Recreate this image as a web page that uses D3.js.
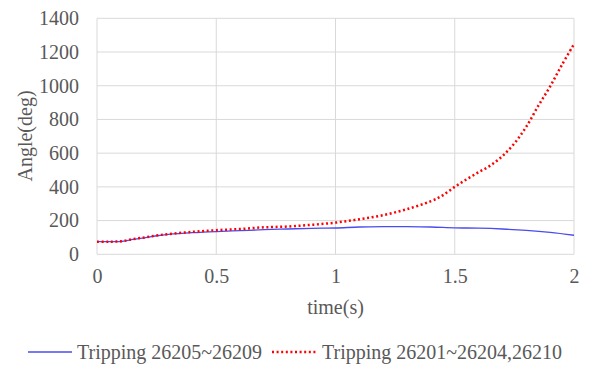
<!DOCTYPE html>
<html><head><meta charset="utf-8">
<script src="https://cdn.jsdelivr.net/npm/d3@7"></script>
<style>html,body{margin:0;padding:0;background:#fff;}svg{display:block;} svg text{font-family:"Liberation Serif","Times New Roman","DejaVu Serif",serif !important;}</style>
</head><body>
<svg id="c" width="589" height="367"></svg>
<script>
const blueT = [0,0.05,0.1,0.15,0.2,0.25,0.3,0.4,0.5,0.6,0.7,0.8,0.9,1.0,1.1,1.2,1.3,1.4,1.5,1.6,1.7,1.8,1.9,2.0];
const blueV = [75,75,76,88,98,110,118,128,135,140,146,150,154,156,162,164,164,162,157,155,150,142,130,113];
const redT = [0,0.05,0.1,0.15,0.2,0.25,0.3,0.4,0.5,0.6,0.7,0.8,0.9,1.0,1.1,1.2,1.3,1.4,1.45,1.5,1.55,1.6,1.65,1.7,1.75,1.8,1.85,1.9,1.95,2.0];
const redV = [75,75,77,90,100,112,120,133,143,150,160,165,175,188,208,232,268,315,350,400,445,487,527,583,658,757,880,996,1125,1247];
const xTicks = [0,0.5,1,1.5,2];
const yTicks = [0,200,400,600,800,1000,1200,1400];
const seriesNames = ["Tripping 26205~26209","Tripping 26201~26204,26210"];

const svg = d3.select("#c");
const L=97,R=574,T=18.3,B=254.3;
const x = d3.scaleLinear().domain([0,2]).range([L,R]);
const y = d3.scaleLinear().domain([0,1400]).range([B,T]);
const txt = "#595959";

svg.append("g").selectAll("line").data(yTicks).join("line")
  .attr("x1",L).attr("x2",R).attr("y1",d=>y(d)).attr("y2",d=>y(d))
  .attr("stroke","#d9d9d9").attr("stroke-width",1);
svg.append("g").selectAll("line").data(xTicks).join("line")
  .attr("y1",T).attr("y2",B).attr("x1",d=>x(d)).attr("x2",d=>x(d))
  .attr("stroke","#d9d9d9").attr("stroke-width",1);

const ya = d3.axisLeft(y).tickValues(yTicks).tickSize(0).tickPadding(18).tickFormat(d3.format("d"));
const yg = svg.append("g").attr("transform",`translate(${L},0)`).call(ya);
yg.select(".domain").remove();
yg.attr("font-size",20);
yg.selectAll("text").attr("fill",txt);

const xa = d3.axisBottom(x).tickValues(xTicks).tickSize(0).tickPadding(15).tickFormat(d=>String(d));
const xg = svg.append("g").attr("transform",`translate(0,${B})`).call(xa);
xg.select(".domain").remove();
xg.attr("font-size",20);
xg.selectAll("text").attr("fill",txt);

svg.append("text").attr("x",(L+R)/2).attr("y",314).attr("text-anchor","middle")
  .attr("font-size",20).attr("fill",txt).text("time(s)");
svg.append("text").attr("transform",`translate(32,136) rotate(-90)`).attr("text-anchor","middle")
  .attr("font-size",20).attr("fill",txt).text("Angle(deg)");

const line = d3.line().x(d=>x(d[0])).y(d=>y(d[1])).curve(d3.curveCatmullRom.alpha(0.5));
const blue = blueT.map((t,i)=>[t,blueV[i]]);
const red = redT.map((t,i)=>[t,redV[i]]);
svg.append("path").attr("d",line(blue)).attr("fill","none").attr("stroke","#4b4bef").attr("stroke-width",1.3);
svg.append("path").attr("d",line(red)).attr("fill","none").attr("stroke","#ff0000").attr("stroke-width",2.5).attr("stroke-dasharray","2,2.6");

const ly = 352;
svg.append("line").attr("x1",28).attr("x2",72).attr("y1",ly).attr("y2",ly).attr("stroke","#4b4bef").attr("stroke-width",1.3);
svg.append("text").attr("x",77).attr("y",359).attr("font-size",20).attr("fill",txt).text(seriesNames[0]);
svg.append("line").attr("x1",272).attr("x2",316).attr("y1",ly).attr("y2",ly).attr("stroke","#ff0000").attr("stroke-width",2.5).attr("stroke-dasharray","2,2.6");
svg.append("text").attr("x",322).attr("y",359).attr("font-size",20).attr("fill",txt).text(seriesNames[1]);
</script>
</body></html>
